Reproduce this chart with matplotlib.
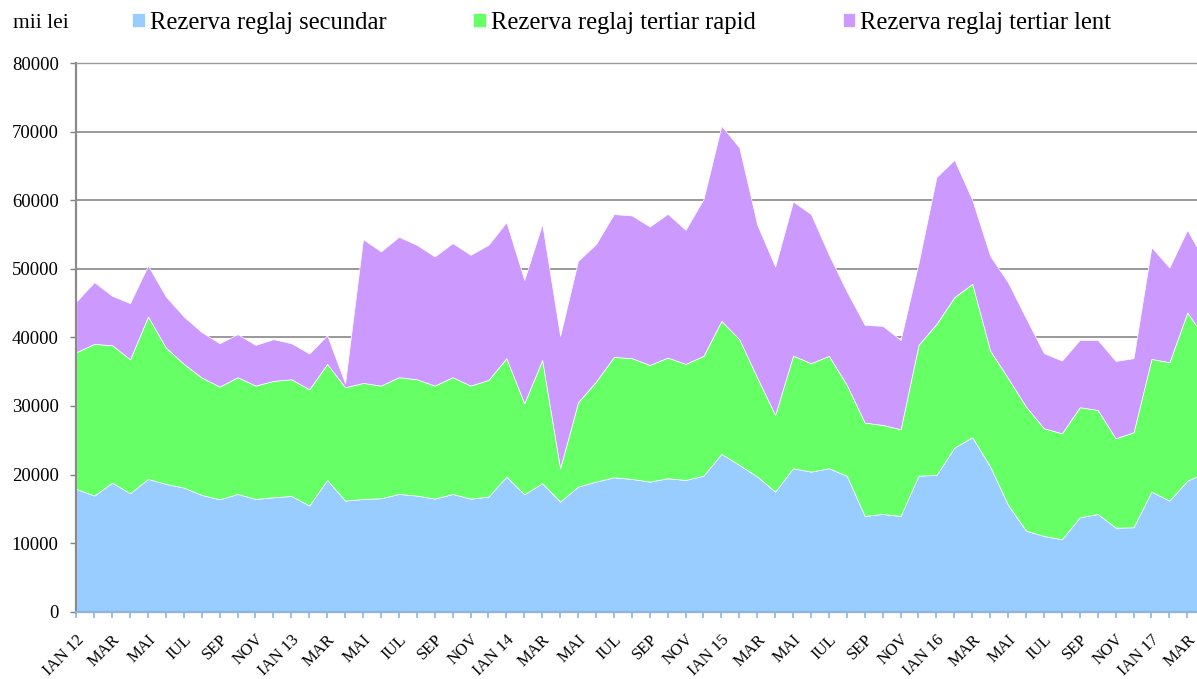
import matplotlib
matplotlib.use("Agg")
import matplotlib.pyplot as plt
import numpy as np

plt.rcParams['font.family'] = ['Liberation Serif', 'DejaVu Serif']

# Monthly values, IAN 2012 .. APR 2017 (mii lei)
rezerva_secundar = [
    17900, 16930, 18820, 17270, 19360, 18630, 18100, 17020, 16390, 17170, 16440, 16690,
    16880, 15470, 19210, 16200, 16440, 16540, 17170, 16930, 16490, 17170, 16490, 16780,
    19700, 17120, 18730, 16050, 18240, 18970, 19600, 19360, 18970, 19460, 19210, 19840,
    23010, 21400, 19700, 17510, 20920, 20430, 20920, 19800, 13960, 14250, 13960, 19840,
    19940, 23930, 25440, 21160, 15560, 11820, 11040, 10560, 13770, 14250, 12260, 12310,
    17510, 16200, 19110, 20280,
]
rezerva_tertiar_rapid = [
    19940, 22130, 20040, 19550, 23690, 19890, 18040, 17120, 16440, 17030, 16540, 16970,
    17020, 16970, 16930, 16530, 16920, 16440, 17030, 16970, 16490, 17030, 16490, 17020,
    17270, 13280, 17990, 4870, 12310, 14590, 17560, 17610, 17020, 17600, 16930, 17470,
    19400, 18340, 14440, 11190, 16430, 15810, 16390, 13280, 13620, 12990, 12650, 19070,
    22030, 21940, 22370, 16920, 18490, 18090, 15710, 15460, 16050, 15180, 13030, 13860,
    19360, 20180, 24520, 19560,
]
rezerva_tertiar_lent = [
    7390, 9000, 7200, 8180, 7440, 7440, 6900, 6620, 6320, 6270, 5930, 6080,
    5250, 5210, 4180, 590, 20970, 19550, 20470, 19600, 18820, 19550, 19060, 19700,
    19840, 17990, 19840, 19300, 20620, 20040, 20820, 20810, 20180, 20960, 19550, 22860,
    28450, 27960, 22280, 21640, 22470, 21740, 14730, 13610, 14250, 14440, 13030, 11920,
    21400, 20030, 12250, 13810, 13950, 12890, 10950, 10600, 9820, 10210, 11280, 10800,
    16290, 13810, 12060, 11090,
]

series_names = ["Rezerva reglaj secundar", "Rezerva reglaj tertiar rapid",
                "Rezerva reglaj tertiar lent"]
series_colors = ["#99CCFF", "#66FF66", "#CC99FF"]

# Labels shown on every second month
tick_labels = [
    "IAN 12", "MAR", "MAI", "IUL", "SEP", "NOV",
    "IAN 13", "MAR", "MAI", "IUL", "SEP", "NOV",
    "IAN 14", "MAR", "MAI", "IUL", "SEP", "NOV",
    "IAN 15", "MAR", "MAI", "IUL", "SEP", "NOV",
    "IAN 16", "MAR", "MAI", "IUL", "SEP", "NOV",
    "IAN 17", "MAR",
]
y_ticks = [0, 10000, 20000, 30000, 40000, 50000, 60000, 70000, 80000]

W, H = 1197, 679
fig = plt.figure(figsize=(W / 100, H / 100), dpi=100)
fig.patch.set_facecolor("white")

# plot area (the last month runs slightly past the right edge of the canvas)
left_px, right_px, top_px, bottom_px = 76.3, 1205.2, 63.1, 611.7
ax = fig.add_axes([left_px / W, 1 - bottom_px / H,
                   (right_px - left_px) / W, (bottom_px - top_px) / H])

x = np.arange(len(rezerva_secundar))
polys = ax.stackplot(x, rezerva_secundar, rezerva_tertiar_rapid, rezerva_tertiar_lent,
                     colors=series_colors, edgecolor="white", linewidth=0.5, zorder=2)

ax.set_xlim(0, len(x) - 1)
ax.set_ylim(0, 80000)

# horizontal gridlines behind the areas
ax.set_axisbelow(True)
ax.set_yticks(y_ticks)
ax.set_yticklabels([str(v) for v in y_ticks])
ax.yaxis.grid(True, color="#878787", linewidth=1.2, zorder=0)
ax.xaxis.grid(False)

# spines
for side in ("top", "right"):
    ax.spines[side].set_color("#9a9a9a")
    ax.spines[side].set_linestyle((0, (1.5, 1)))
    ax.spines[side].set_linewidth(1.0)
ax.spines["left"].set_color("#8a8a8a")
ax.spines["left"].set_linestyle((0, (2, 1)))
ax.spines["left"].set_linewidth(1.6)
ax.spines["bottom"].set_color("#8DB4E2")
ax.spines["bottom"].set_linewidth(1.6)
for s in ax.spines.values():
    s.set_zorder(3)

ax.tick_params(axis="y", direction="out", length=4.3, width=1.0, color="#808080",
               pad=8.4, labelsize=13.5, labelcolor="black")

major_pos = x[::2][:len(tick_labels)]
ax.set_xticks(major_pos)
ax.set_xticklabels(tick_labels)
ax.set_xticks(x[1::2], minor=True)
ax.tick_params(axis="x", which="both", direction="inout", length=8, width=1.2,
               color="#8DB4E2", pad=10.3, labelsize=12)
for lbl in ax.get_xticklabels():
    lbl.set_rotation(45)
    lbl.set_rotation_mode("anchor")
    lbl.set_ha("right")
    lbl.set_va("top")

# unit and legend above the plot
fig.text(13 / W, 1 - 28.3 / H, "mii lei", fontsize=15.5, va="baseline", ha="left")
fig.legend(handles=polys, labels=series_names, loc="center left",
           bbox_to_anchor=(132.3 / W, 1 - 23 / H), ncol=3, frameon=False,
           fontsize=17.7, handlelength=0.5, handleheight=0.5, handletextpad=0.2,
           columnspacing=3.55, borderpad=0, borderaxespad=0)

fig.savefig("out.png", dpi=100)
